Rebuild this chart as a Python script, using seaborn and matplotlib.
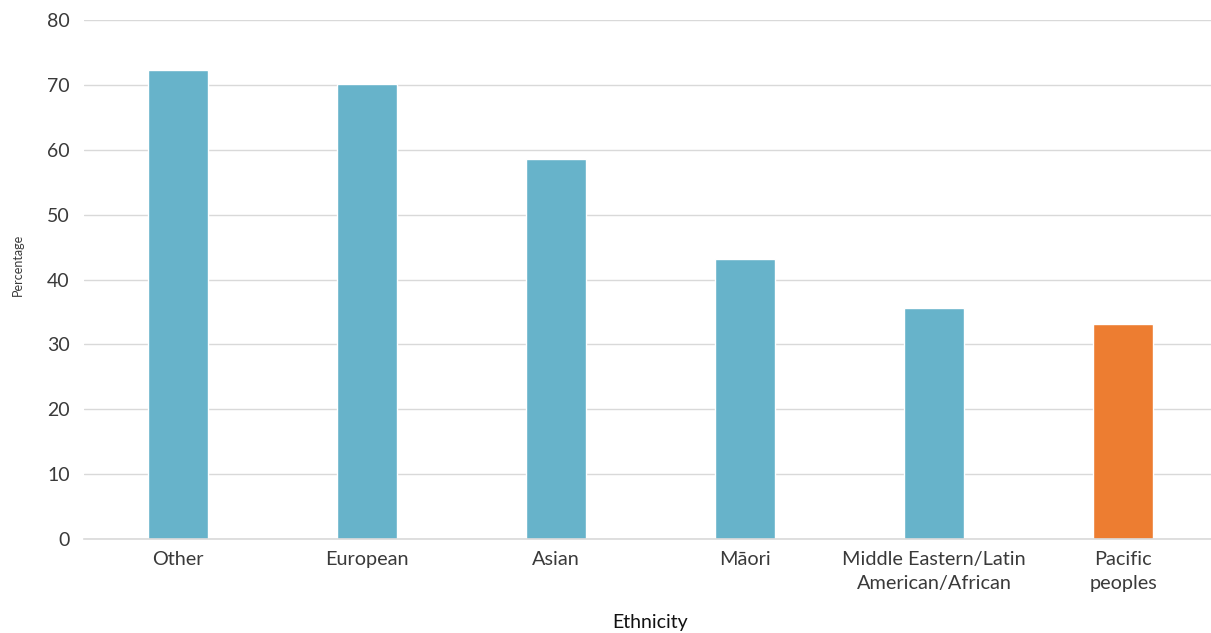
import matplotlib
matplotlib.use("Agg")
import matplotlib.pyplot as plt
import seaborn as sns
import pandas as pd

categories = ["Other", "European", "Asian", "Māori",
              "Middle Eastern/Latin\nAmerican/African", "Pacific\npeoples"]
values = [72.3, 70.1, 58.6, 43.2, 35.6, 33.1]
highlight = [False, False, False, False, False, True]
yticks = [0, 10, 20, 30, 40, 50, 60, 70, 80]

sns.set_theme(style="white")
plt.rcParams['font.family'] = ['Lato', 'DejaVu Sans']

df = pd.DataFrame({"Ethnicity": categories, "Percentage": values,
                   "hl": ["Pacific" if h else "Other" for h in highlight]})

fig = plt.figure(figsize=(12.11, 6.33), dpi=100)
ax = fig.add_axes([0.069, 0.1485, 0.9364, 0.8199])

sns.barplot(data=df, x="Ethnicity", y="Percentage", hue="hl",
            palette={"Other": "#67B3CA", "Pacific": "#ED7D31"},
            dodge=False, width=0.32, legend=False, ax=ax, saturation=1)

ax.set_ylim(0, 80)
ax.set_xlim(-0.5, 5.5)
ax.set_yticks(yticks)
ax.grid(axis="y", color="#D9D9D9", linewidth=1)
ax.set_axisbelow(True)
for s in ["top", "right", "left"]:
    ax.spines[s].set_visible(False)
ax.spines["bottom"].set_color("#D9D9D9")
ax.spines["bottom"].set_linewidth(1.2)

ax.tick_params(axis="y", length=0, pad=10, labelsize=14, labelcolor="#3a3a3a")
ax.tick_params(axis="x", length=0, pad=9, labelsize=14.3, labelcolor="#3a3a3a")
for t in ax.get_yticklabels() + ax.get_xticklabels():
    t.set_fontweight("normal")
    t.set_color("#3a3a3a")
    t.set_linespacing(1.45)

ax.set_ylabel("Percentage", fontsize=9, color="#3a3a3a")
ax.yaxis.set_label_coords(-0.053, 0.528)
ax.set_xlabel("Ethnicity", fontsize=14, color="#111111", labelpad=16)

fig.savefig("out.png", dpi=100)
